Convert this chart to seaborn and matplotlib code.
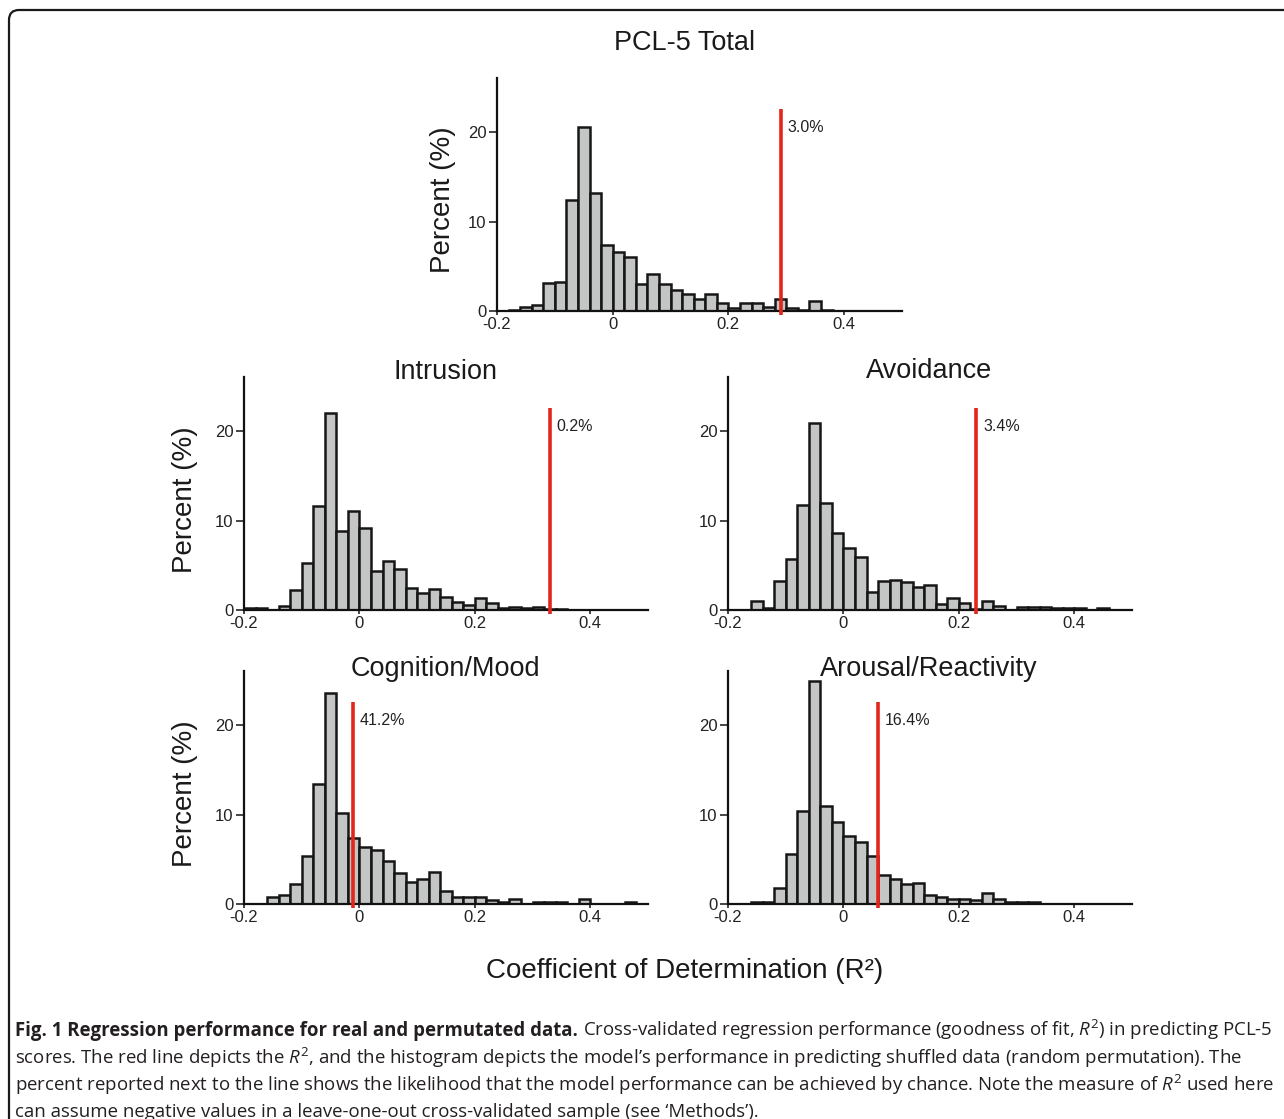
import numpy as np
import pandas as pd
import matplotlib
matplotlib.use('Agg')
import matplotlib.pyplot as plt
import seaborn as sns
from matplotlib.patches import FancyBboxPatch

# bins of the permutation histograms (R^2), 0.02 wide
bin_edges = [round(v, 2) for v in np.arange(-0.2, 0.5001, 0.02)]
bin_mid = [(a + b) / 2 for a, b in zip(bin_edges[:-1], bin_edges[1:])]

panel_titles = ['PCL-5 Total', 'Intrusion', 'Avoidance', 'Cognition/Mood', 'Arousal/Reactivity']

# percent of permutations falling in each bin
total_pct = [0, 0.15, 0.5, 0.7, 3.1, 3.3, 12.4, 20.6, 13.2, 7.4,
             6.6, 6.1, 3.0, 4.1, 3.0, 2.3, 1.95, 1.3, 1.9, 0.9,
             0.35, 0.9, 0.9, 0.5, 1.35, 0.35, 0.15, 1.1, 0.15, 0,
             0, 0, 0, 0, 0]
intrusion_pct = [0.2, 0.2, 0, 0.4, 2.2, 5.3, 11.6, 22.1, 8.9, 11.1,
                 9.2, 4.4, 5.5, 4.6, 2.5, 1.9, 2.35, 1.5, 0.9, 0.55,
                 1.35, 0.75, 0.2, 0.3, 0.2, 0.35, 0.15, 0.15, 0, 0,
                 0, 0, 0, 0, 0]
avoidance_pct = [0, 0, 1.0, 0.2, 3.2, 5.7, 11.8, 20.9, 12.0, 8.6,
                 6.9, 5.95, 2.0, 3.2, 3.4, 3.15, 2.55, 2.8, 0.7, 1.3,
                 0.8, 0.1, 1.0, 0.4, 0, 0.35, 0.35, 0.35, 0.2, 0.2,
                 0.2, 0, 0.2, 0, 0]
cognition_pct = [0, 0, 0.8, 1.0, 2.2, 5.4, 13.4, 23.6, 10.2, 7.4,
                 6.4, 6.0, 4.8, 3.5, 2.45, 2.8, 3.6, 1.45, 0.75, 0.75,
                 0.75, 0.45, 0.2, 0.6, 0, 0.2, 0.2, 0.2, 0, 0.6,
                 0, 0, 0, 0.2, 0]
arousal_pct = [0, 0, 0.2, 0.2, 1.8, 5.65, 10.4, 25.0, 11.0, 9.2,
               7.6, 6.95, 5.35, 3.2, 2.8, 2.2, 2.4, 1.0, 0.75, 0.6,
               0.6, 0.45, 1.2, 0.6, 0.2, 0.2, 0.2, 0, 0, 0,
               0, 0, 0, 0, 0]
panel_pct = [total_pct, intrusion_pct, avoidance_pct, cognition_pct, arousal_pct]

# real-data R^2 (red line) and chance level next to it
real_r2 = [0.29, 0.33, 0.23, -0.012, 0.06]
chance_labels = ['3.0%', '0.2%', '3.4%', '41.2%', '16.4%']
line_top = 22.6
label_y = 20.6

xticks = [-0.2, 0, 0.2, 0.4]
xtick_labels = ['-0.2', '0', '0.2', '0.4']
yticks = [0, 10, 20]

caption_bold = 'Fig. 1 Regression performance for real and permutated data.'
caption_lines = [
    'Cross-validated regression performance (goodness of fit, $R^2$) in predicting PCL-5',
    'scores. The red line depicts the $R^2$, and the histogram depicts the model\u2019s performance in predicting shuffled data (random permutation). The',
    'percent reported next to the line shows the likelihood that the model performance can be achieved by chance. Note the measure of $R^2$ used here',
    'can assume negative values in a leave-one-out cross-validated sample (see \u2018Methods\u2019).',
]

W, H = 1284, 1119

sns.set_style('ticks')
plt.rcParams['font.family'] = ['Liberation Sans', 'DejaVu Sans']
plt.rcParams['mathtext.fontset'] = 'custom'
plt.rcParams['mathtext.rm'] = 'Open Sans'
plt.rcParams['mathtext.it'] = 'Open Sans:italic'
plt.rcParams['mathtext.bf'] = 'Open Sans:bold'

fig = plt.figure(figsize=(W / 100, H / 100), dpi=100)
fig.patch.set_facecolor('white')


def px_rect(l, t, r, b):
    return [l / W, 1 - b / H, (r - l) / W, (b - t) / H]


# axes boxes in pixels: left, top, right, bottom
boxes = [(497, 78, 902, 311), (244, 377, 648, 610), (728, 377, 1132, 610),
         (244, 671, 648, 904), (728, 671, 1132, 904)]
title_pos = [(685, 50), (445, 379), (929, 378), (445, 676), (929, 676)]

for i, box in enumerate(boxes):
    ax = fig.add_axes(px_rect(*box))
    df = pd.DataFrame({'r2': bin_mid, 'pct': panel_pct[i]})
    sns.histplot(data=df, x='r2', weights='pct', bins=bin_edges, ax=ax,
                 color='#c4c6c5', edgecolor='#161616', linewidth=1.8, alpha=1)
    ax.vlines(real_r2[i], -0.4, line_top, color='#e3261c', lw=2.6, zorder=5, clip_on=False)
    ax.annotate(chance_labels[i], xy=(real_r2[i], label_y), xytext=(5, 0),
                textcoords='offset points', va='center', fontsize=11.5, color='#222222')
    ax.set_xlim(-0.2, 0.5)
    ax.set_ylim(0, 26.1)
    ax.set_xticks(xticks)
    ax.set_xticklabels(xtick_labels)
    ax.set_yticks(yticks)
    ax.set_xlabel('')
    ax.set_ylabel('')
    sns.despine(ax=ax)
    for s in ['left', 'bottom']:
        ax.spines[s].set_linewidth(1.6)
        ax.spines[s].set_color('#111111')
    ax.tick_params(axis='y', length=6, width=1.2, pad=1.5, labelsize=12, labelcolor='#222222')
    ax.tick_params(axis='x', length=3, width=1.2, pad=1.5, labelsize=12, labelcolor='#222222')
    fig.text(title_pos[i][0] / W, 1 - title_pos[i][1] / H, panel_titles[i],
             ha='center', va='baseline', fontsize=19.5, color='#1a1a1a')

# y labels on the left column
for x, y in [(443, 200), (185, 500), (185, 794)]:
    fig.text(x / W, 1 - y / H, 'Percent (%)', rotation=90, ha='center', va='center',
             fontsize=20, color='#1a1a1a')

fig.text(685 / W, 1 - 971 / H, 'Coefficient of Determination (R\u00b2)', ha='center', va='center',
         fontsize=20, color='#1a1a1a')

# rounded frame around the figure (cut off at right and bottom)
frame = FancyBboxPatch((0.09, -1.0), 14, 12.09, boxstyle='round,pad=0,rounding_size=0.1',
                       fill=False, lw=1.6, ec='#1a1a1a', transform=fig.dpi_scale_trans,
                       clip_on=False)
fig.add_artist(frame)

# caption
cap_x = 15
cap_base = [1036, 1063.5, 1091, 1117]
cap_kw = dict(fontsize=13.45, family='Open Sans', color='#231f20', va='baseline', ha='left')
t_bold = fig.text(cap_x / W, 1 - cap_base[0] / H, caption_bold, fontweight='bold', **cap_kw)
fig.canvas.draw()
bb = t_bold.get_window_extent()
fig.text((bb.x1 + 5) / W, 1 - cap_base[0] / H, caption_lines[0], **cap_kw)
for k in range(1, 4):
    fig.text(cap_x / W, 1 - cap_base[k] / H, caption_lines[k], **cap_kw)

fig.savefig('out.png', dpi=100)
